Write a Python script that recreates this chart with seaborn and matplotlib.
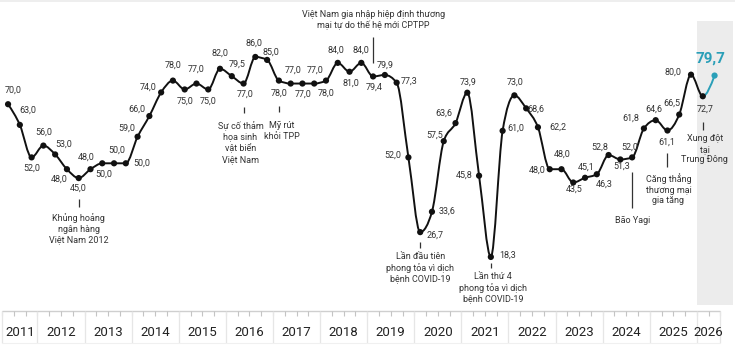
import numpy as np
import pandas as pd
import matplotlib
matplotlib.use("Agg")
import matplotlib.pyplot as plt
from matplotlib.path import Path
from matplotlib.patches import PathPatch
import seaborn as sns

# ---------------- data ----------------
quarters = [str(p) for p in pd.period_range("2011Q2", "2026Q2", freq="Q")]
values = [70.0, 63.0, 52.0, 56.0, 53.0, 48.0, 45.0, 48.0, 50.0, 50.0, 50.0, 59.0,
          66.0, 74.0, 78.0, 75.0, 77.0, 75.0, 82.0, 79.5, 77.0, 86.0, 85.0, 78.0,
          77.0, 77.0, 77.0, 78.0, 84.0, 81.0, 84.0, 79.4, 79.9, 77.3, 52.0, 26.7,
          33.6, 57.5, 63.6, 73.9, 45.8, 18.3, 61.0, 73.0, 68.6, 62.2, 48.0, 48.0,
          43.5, 45.1, 46.3, 52.8, 51.3, 52.0, 61.8, 64.6, 61.1, 66.5, 80.0, 72.7,
          79.7]
years = list(range(2011, 2027))
event_quarters = ["2012Q4", "2016Q2", "2017Q1", "2019Q1", "2020Q1", "2021Q3",
                  "2024Q3", "2025Q2", "2026Q1"]
event_texts = ["Khủng hoảng\nngân hàng\nViệt Nam 2012",
               "Sự cố thảm\nhọa sinh\nvật biển\nViệt Nam",
               "Mỹ rút\nkhỏi TPP",
               "Việt Nam gia nhập hiệp định thương\nmại tự do thế hệ mới CPTPP",
               "Lần đầu tiên\nphong tỏa vì dịch\nbệnh COVID-19",
               "Lần thứ 4\nphong tỏa vì dịch\nbệnh COVID-19",
               "Bão Yagi",
               "Căng thẳng\nthương mại\ngia tăng",
               "Xung đột\ntại\nTrung Đông"]

# ---------------- styling / placement ----------------
# label offsets in pixels (dx, dy with dy downward)
label_offsets = [(5, -14), (8, -15), (0, 11), (0, -13), (9, -10), (-8, 10), (0, 10),
                 (-4, -12), (2, 11), (3, -13), (16, 0), (-11, -9), (-12, -7), (-13, -5),
                 (0, -15), (0, 12), (0, -14), (0, 12), (0, -16), (5, -12), (2, 11),
                 (-1, -14), (4, -8), (0, 13), (2, -13), (1, 11), (1, -13), (0, 13),
                 (-2, -13), (1, 11), (0, -13), (1, 11), (0, -10), (12, -1), (-16, -2),
                 (15, 3), (15, -1), (-9, -6), (-12, -10), (1, -11), (-15, -1), (17, -2),
                 (13, -3), (1, -13), (10, 1), (20, 0), (-12, 1), (1, -15), (1, 7),
                 (1, -11), (7, 10), (-9, -8), (1, 7), (-2, -10), (-13, -10), (-2, -11),
                 (-1, 12), (-7, -11), (-18, -2), (2, 13), (-4, -17)]
# event styling: (tick top px, tick bottom px, text top px, x shift px)
event_style = [(199, 207, 213, 0), (107, 113, 121, -3), (106, 112, 121, 3),
               (37, 63, 10, 0), (242, 248, 252, 0), (263, 268, 272, 2),
               (172, 208, 216, 0), (153, 167, 173, 1), (122, 130, 134, 2)]

BLACK = "#111111"
TEAL = "#2a9fb8"
TXT = "#333333"

sns.set_theme(style="white")
plt.rcParams["font.family"] = ["Roboto", "DejaVu Sans"]

W, H = 735, 350
PX_PER_YEAR = 47.1
X2012 = 37.5
Y0PX = 311.0
PX_PER_UNIT = 2.954


def qx(q):
    p = pd.Period(q, freq="Q")
    return p.year + (p.quarter - 1) / 4 + 0.125


def py2v(py):
    return (Y0PX - py) / PX_PER_UNIT


df = pd.DataFrame({"quarter": quarters, "value": values})
df["x"] = df["quarter"].map(qx)

fig = plt.figure(figsize=(W / 100, H / 100), dpi=100)
ax = fig.add_axes([0, 0, 1, 1])
xmin = 2012 - X2012 / PX_PER_YEAR
xmax = 2012 + (W - X2012) / PX_PER_YEAR
ax.set_xlim(xmin, xmax)
ax.set_ylim(py2v(H), py2v(0))
ax.axis("off")

# top band
ax.axhspan(py2v(2), py2v(0), color="#eeeeee", lw=0, zorder=0)

# shaded current year
last_year = years[-1]
ax.fill_between([last_year, xmax - 2 / PX_PER_YEAR], py2v(305), py2v(21),
                color="#ececec", lw=0, zorder=0)

# x axis strip
xs_start = df["x"].iloc[0] - 0.125
xs_end = df["x"].iloc[-1] + 0.125
ax.hlines(0, xs_start, xs_end, color="#cfcfcf", lw=1, zorder=1)
qticks = np.arange(xs_start, xs_end + 1e-9, 0.25)
ax.vlines(qticks, py2v(316), 0, color="#c4c4c4", lw=0.8, zorder=1)
ax.vlines([xs_start] + [y for y in years if xs_start < y < xs_end] + [xs_end],
          py2v(343), 0, color="#e6e6e6", lw=0.9, zorder=1)
ax.hlines(py2v(343), xs_start, xs_end, color="#f0f0f0", lw=0.8, zorder=1)
for y in years:
    lo = max(y, xs_start)
    hi = min(y + 1, xs_end)
    ax.text((lo + hi) / 2, py2v(333), str(y), ha="center", va="center",
            fontsize=9.5, color="#222222")


# smooth monotone line (d3 curveMonotoneX style bezier)
def monotone_tangents(xs, ys):
    n = len(xs)
    h = np.diff(xs)
    s = np.diff(ys) / h
    t = np.zeros(n)
    for i in range(1, n - 1):
        h0, h1 = h[i - 1], h[i]
        s0, s1 = s[i - 1], s[i]
        p = (s0 * h1 + s1 * h0) / (h0 + h1)
        t[i] = (np.sign(s0) + np.sign(s1)) * min(abs(s0), abs(s1), 0.5 * abs(p))
    t[0] = (3 * s[0] - t[1]) / 2
    t[-1] = (3 * s[-1] - t[-2]) / 2
    return t


def bezier_path(xs, ys, t, i0, i1):
    verts = [(xs[i0], ys[i0])]
    codes = [Path.MOVETO]
    for i in range(i0, i1):
        dx = (xs[i + 1] - xs[i]) / 3
        verts += [(xs[i] + dx, ys[i] + dx * t[i]),
                  (xs[i + 1] - dx, ys[i + 1] - dx * t[i + 1]),
                  (xs[i + 1], ys[i + 1])]
        codes += [Path.CURVE4] * 3
    return Path(verts, codes)


xv = df["x"].to_numpy()
yv = df["value"].to_numpy()
tan = monotone_tangents(xv, yv)
n = len(xv)
ax.add_patch(PathPatch(bezier_path(xv, yv, tan, 0, n - 2), fill=False,
                       edgecolor=BLACK, lw=1.4, zorder=3, capstyle="round", joinstyle="round"))
ax.add_patch(PathPatch(bezier_path(xv, yv, tan, n - 2, n - 1), fill=False,
                       edgecolor=TEAL, lw=1.4, zorder=3, capstyle="round"))

sns.scatterplot(data=df.iloc[:-1], x="x", y="value", color=BLACK, s=20,
                edgecolor="none", ax=ax, zorder=4, legend=False)
sns.scatterplot(data=df.iloc[-1:], x="x", y="value", color=TEAL, s=20,
                edgecolor="none", ax=ax, zorder=4, legend=False)
ax.set_xlim(xmin, xmax)
ax.set_ylim(py2v(H), py2v(0))
ax.axis("off")

# value labels
for i, (x, v) in enumerate(zip(xv, yv)):
    dx, dy = label_offsets[i]
    txt = f"{v:.1f}".replace(".", ",")
    if i == n - 1:
        ax.annotate(txt, (x, v), xytext=(dx, -dy), textcoords="offset pixels",
                    ha="center", va="center", fontsize=11, fontweight="bold",
                    color=TEAL, zorder=6)
    else:
        ax.annotate(txt, (x, v), xytext=(dx, -dy), textcoords="offset pixels",
                    ha="center", va="center", fontsize=6.5, color=TXT, zorder=6)

# events
for q, text, (t0, t1, ty, sh) in zip(event_quarters, event_texts, event_style):
    x = qx(q)
    ax.vlines(x, py2v(t1), py2v(t0), color="#333333", lw=0.9, zorder=2)
    ax.text(x + sh / PX_PER_YEAR, py2v(ty), text, ha="center", va="top",
            fontsize=6.5, color=TXT, linespacing=1.25, zorder=6)

fig.savefig("out.png", dpi=100)
